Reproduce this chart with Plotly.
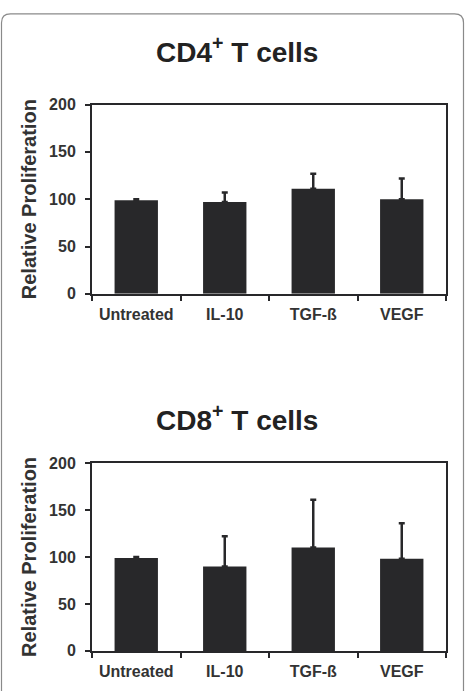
import plotly.graph_objects as go

categories = ["Untreated", "IL-10", "TGF-ß", "VEGF"]
cd4_values = [99, 97, 111, 100]
cd4_errors = [1, 10, 16, 22]
cd8_values = [99, 90, 110, 98]
cd8_errors = [1, 32, 51, 38]
y_ticks = [0, 50, 100, 150, 200]
titles = ["CD4<sup>+</sup> T cells", "CD8<sup>+</sup> T cells"]
y_title = "Relative Proliferation"

W, H = 465, 695
FONT = "Liberation Sans, Arial, Helvetica, sans-serif"
DARK = "#28282a"

def px(x):
    return x / W

def py(y):
    return 1 - y / H

fig = go.Figure()

panels = [
    (cd4_values, cd4_errors, "x", "y", (99, 293), 43),
    (cd8_values, cd8_errors, "x2", "y2", (466.5, 659), 420),
]

for i, (vals, errs, xa, ya, (ytop, ybot), title_y) in enumerate(panels):
    fig.add_trace(go.Bar(
        x=categories, y=vals, xaxis=xa, yaxis=ya,
        marker=dict(color=DARK, line=dict(width=0)),
        width=0.49,
        error_y=dict(type="data", array=errs, arrayminus=[0] * len(errs),
                     symmetric=False, color=DARK, thickness=2.5, width=3),
        showlegend=False,
    ))
    sfx = "" if i == 0 else "2"
    fig.layout["xaxis" + sfx] = dict(
        domain=[px(92), px(446)], anchor="y" + sfx, type="category",
        range=[-0.5, 3.5], tickson="boundaries", ticks="outside",
        ticklen=5, tickwidth=2, tickcolor=DARK,
        showline=True, linewidth=2, linecolor=DARK, mirror=True,
        showgrid=False, zeroline=False,
        tickfont=dict(family=FONT, size=16, color="#333333", weight="bold"),
        ticklabelstandoff=5,
    )
    fig.layout["yaxis" + sfx] = dict(
        domain=[py(ybot), py(ytop)], anchor="x" + sfx,
        range=[0, 200], tickvals=y_ticks, ticks="outside",
        ticklen=5, tickwidth=2, tickcolor=DARK,
        showline=True, linewidth=2, linecolor=DARK, mirror=True,
        showgrid=False, zeroline=False,
        tickfont=dict(family=FONT, size=16, color="#333333", weight="bold"),
        ticklabelstandoff=6,
    )
    fig.add_annotation(
        text=titles[i], xref="paper", yref="paper",
        x=px(237), y=py(title_y), xanchor="center", yanchor="middle",
        showarrow=False,
        font=dict(family=FONT, size=28, color="#222222", weight="bold"),
    )
    fig.add_annotation(
        text=y_title, xref="paper", yref="paper",
        x=px(29), y=py((ytop + ybot) / 2), xanchor="center", yanchor="middle",
        textangle=-90, showarrow=False,
        font=dict(family=FONT, size=20, color="#333333", weight="bold"),
    )

# rounded frame around the figure
x0, x1, yt, yb, r = px(1.5), px(463.5), py(6), py(700), 9
path = (f"M {x0},{yb} L {x0},{py(6 + r)} Q {x0},{yt} {px(1.5 + r)},{yt} "
        f"L {px(463.5 - r)},{yt} Q {x1},{yt} {x1},{py(6 + r)} L {x1},{yb}")
fig.add_shape(type="path", path=path, xref="paper", yref="paper",
              line=dict(color="#8a8a8a", width=1.2))

fig.update_layout(
    width=W, height=H, autosize=False,
    margin=dict(l=0, r=0, t=0, b=0),
    paper_bgcolor="white", plot_bgcolor="white",
    bargap=0.51,
)

fig.write_html("out.html")
